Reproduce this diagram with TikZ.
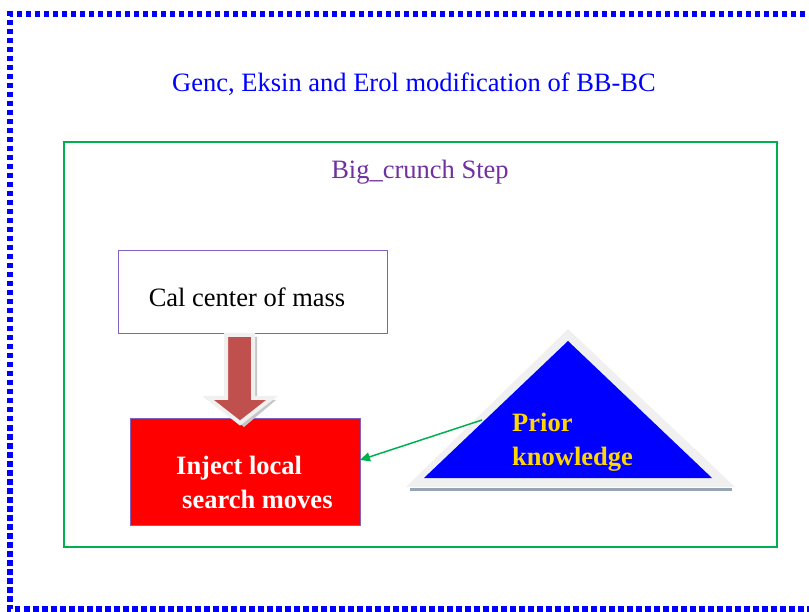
\documentclass[tikz,border=0pt]{standalone}
\usepackage{fontspec}
\setmainfont{Liberation Serif}
\usetikzlibrary{arrows.meta}
\definecolor{frameblue}{RGB}{0,0,255}
\definecolor{stepgreen}{RGB}{0,176,80}
\definecolor{steppurple}{RGB}{112,48,160}
\definecolor{boxpurple}{RGB}{128,96,192}
\definecolor{arrowred}{RGB}{192,80,77}
\definecolor{priorgold}{RGB}{255,215,0}
\definecolor{edgegray}{RGB}{240,240,240}
\definecolor{shadowgray}{RGB}{150,165,180}
\tikzset{
  txt/.style={font=\fontsize{26.5}{32}\selectfont, inner sep=0pt},
  boldtxt/.style={font=\fontsize{26.5}{34}\selectfont\bfseries, inner sep=0pt, align=left},
  outerframe/.style={draw=frameblue, line width=5.5pt, dash pattern=on 5.5pt off 3.5pt},
  stepframe/.style={draw=stepgreen, line width=1.5pt},
  plainbox/.style={draw=boxpurple, line width=1.2pt, fill=white},
}
\begin{document}
\begin{tikzpicture}[x=1pt,y=-1pt]
\useasboundingbox (0,0) rectangle (809,612);

% dotted outer frame
\draw[outerframe] (814,14) -- (10,14) -- (10,609) -- (814,609);

% title
\node[txt, text=frameblue] (title) at (414,84) {Genc, Eksin and Erol modification of BB-BC};

% big crunch step frame
\draw[stepframe] (64,142) rectangle (777,547);
\node[txt, text=steppurple] (step) at (420,172) {Big\_crunch Step};

% centre of mass box
\node[plainbox, minimum width=269pt, minimum height=83pt, anchor=north west] (cal) at (118,250) {};
\node[txt] (caltext) at (247,297) {Cal center of mass};

% injection box
\node[draw=boxpurple, line width=1.2pt, fill=red, minimum width=230pt, minimum height=107pt, anchor=north west] (inj) at (130,418) {};
\node[boldtxt, text=white, anchor=north west] (injtext) at (176,456) {Inject local\\\hspace{6pt}search moves};

% block arrow between the boxes
\fill[gray!45] (230,337) -- (257,337) -- (257,400) -- (276,400) -- (244,427) -- (212,400) -- (230,400) -- cycle;
\draw[edgegray, line width=4pt, line join=miter, fill=arrowred]
  (226,335) -- (253,335) -- (253,398) -- (272,398) -- (240,423) -- (208,398) -- (226,398) -- cycle;

% prior knowledge triangle
\draw[shadowgray, line width=3pt] (410,489) -- (732,489);
\fill[edgegray] (568,329) -- (735,487) -- (406,487) -- cycle;
\fill[frameblue] (568,341) -- (712,478) -- (424,478) -- cycle;
\coordinate (pk) at (482,420);
\coordinate (hit) at (360,460);
\node[boldtxt, text=priorgold, anchor=north west] (prior) at (512,413) {Prior\\knowledge};

% link from prior knowledge to the injection box
\draw[stepgreen, line width=1.5pt, -{Triangle[length=10pt,width=9pt]}] (pk) -- (hit);
\end{tikzpicture}
\end{document}
